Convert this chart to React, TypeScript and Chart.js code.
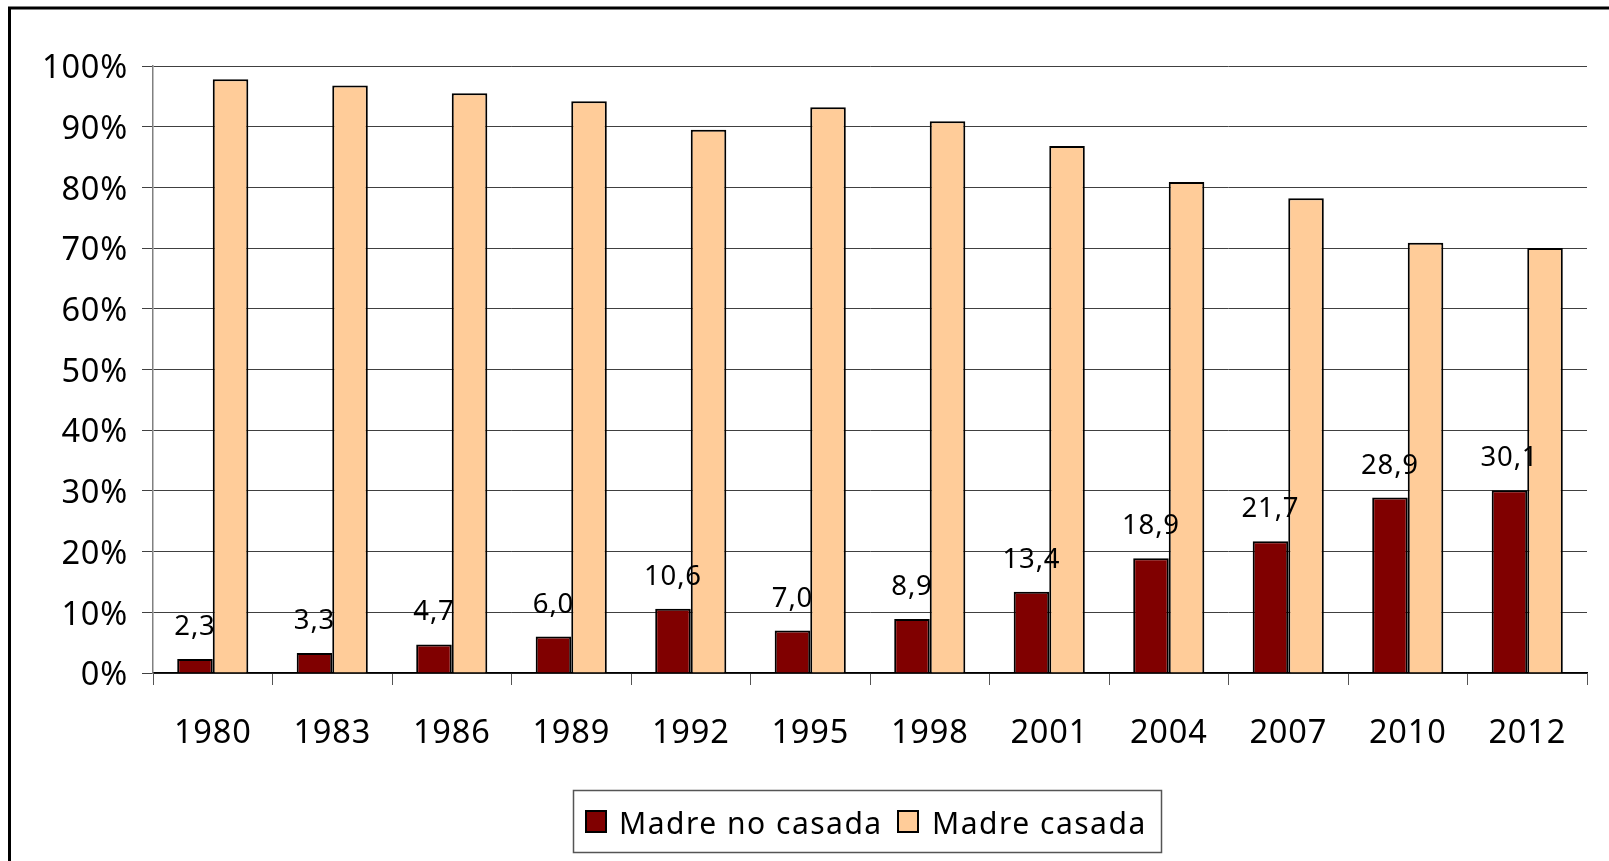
import React, { useEffect, useRef } from 'react';
import { Chart, registerables } from 'chart.js';

Chart.register(...registerables);

const categories = ['1980', '1983', '1986', '1989', '1992', '1995', '1998', '2001', '2004', '2007', '2010', '2012'];
const madreNoCasada = [2.3, 3.3, 4.7, 6.0, 10.6, 7.0, 8.9, 13.4, 18.9, 21.7, 28.9, 30.1];
const madreCasada = [97.8, 96.8, 95.5, 94.2, 89.5, 93.2, 90.9, 86.8, 80.9, 78.2, 70.9, 70.0];
const seriesNames = ['Madre no casada', 'Madre casada'];
const seriesColors = ['#800000', '#FFCC99'];
const yTicks = [0, 10, 20, 30, 40, 50, 60, 70, 80, 90, 100];

const FONT = '"Noto Sans", "Open Sans", sans-serif';

const fmt = (v: number) => v.toFixed(1).replace('.', ',');

const overlayPlugin = {
  id: 'overlay',
  beforeDraw(chart: any) {
    (chart.ctx as any).letterSpacing = '0.8px';
  },
  afterDatasetsDraw(chart: any) {
    const ctx = chart.ctx;
    const meta = chart.getDatasetMeta(0);
    ctx.save();
    (ctx as any).letterSpacing = '0.8px';
    ctx.font = `27.5px ${FONT}`;
    ctx.fillStyle = '#000';
    ctx.textAlign = 'center';
    ctx.textBaseline = 'alphabetic';
    meta.data.forEach((el: any, i: number) => {
      ctx.fillText(fmt(madreNoCasada[i]), el.x, el.y - 24);
    });
    ctx.restore();
  },
  afterDraw(chart: any) {
    const ctx = chart.ctx;
    ctx.save();
    // outer frame
    ctx.strokeStyle = '#000';
    ctx.lineWidth = 3;
    ctx.strokeRect(9.5, 8, 3000, 3000);
    // legend box
    ctx.strokeStyle = '#555';
    ctx.lineWidth = 1.5;
    ctx.strokeRect(573.5, 790.5, 588, 62);
    const items = [
      { sx: 586, tx: 619 },
      { sx: 898, tx: 932 },
    ];
    (ctx as any).letterSpacing = '1.5px';
    ctx.font = `30px ${FONT}`;
    ctx.textAlign = 'left';
    ctx.textBaseline = 'alphabetic';
    items.forEach((it, i) => {
      ctx.fillStyle = seriesColors[i];
      ctx.fillRect(it.sx, 811, 20, 21);
      ctx.strokeStyle = '#000';
      ctx.lineWidth = 2;
      ctx.strokeRect(it.sx, 811, 20, 21);
      ctx.fillStyle = '#000';
      ctx.fillText(seriesNames[i], it.tx, 834);
    });
    ctx.restore();
  },
};

export default function App() {
  const ref = useRef<HTMLCanvasElement | null>(null);

  useEffect(() => {
    document.body.style.margin = '0';
    const canvas = ref.current;
    if (!canvas) return;
    const chart = new Chart(canvas, {
      type: 'bar',
      data: {
        labels: categories,
        datasets: [
          {
            label: seriesNames[0],
            data: madreNoCasada,
            backgroundColor: seriesColors[0],
            borderColor: '#000',
            borderWidth: 2,
            barPercentage: 1,
            categoryPercentage: 0.595,
          },
          {
            label: seriesNames[1],
            data: madreCasada,
            backgroundColor: seriesColors[1],
            borderColor: '#000',
            borderWidth: 2,
            barPercentage: 1,
            categoryPercentage: 0.595,
          },
        ],
      },
      options: {
        animation: false,
        responsive: false,
        devicePixelRatio: 1,
        layout: { padding: { left: 8, right: 22, top: 66, bottom: 0 } },
        plugins: {
          legend: { display: false },
          tooltip: { enabled: false },
        },
        scales: {
          x: {
            afterFit: (s: any) => {
              s.height = 188;
            },
            grid: {
              offset: true,
              drawOnChartArea: false,
              drawTicks: true,
              tickLength: 12,
              color: '#555',
            },
            border: { display: true, color: '#000', width: 1.5 },
            ticks: {
              color: '#000',
              font: { family: FONT, size: 32.5 },
              padding: 29,
              maxRotation: 0,
            },
          },
          y: {
            min: 0,
            max: 100,
            afterFit: (s: any) => {
              s.width = 145;
            },
            afterBuildTicks: (s: any) => {
              s.ticks = yTicks.map((v) => ({ value: v }));
            },
            grid: {
              color: '#404040',
              lineWidth: 1,
              tickLength: 11,
            },
            border: { display: true, color: '#808080', width: 1.5 },
            ticks: {
              color: '#000',
              font: { family: FONT, size: 32.5 },
              padding: 14,
              labelOffset: 3,
              callback: (v: any) => `${v}%`,
            },
          },
        },
      },
      plugins: [overlayPlugin],
    });
    return () => chart.destroy();
  }, []);

  return (
    <div style={{ position: 'absolute', left: 0, top: 0, width: 1609, height: 861, background: '#fff' }}>
      <canvas ref={ref} width={1609} height={861} style={{ width: 1609, height: 861, display: 'block' }} />
    </div>
  );
}
